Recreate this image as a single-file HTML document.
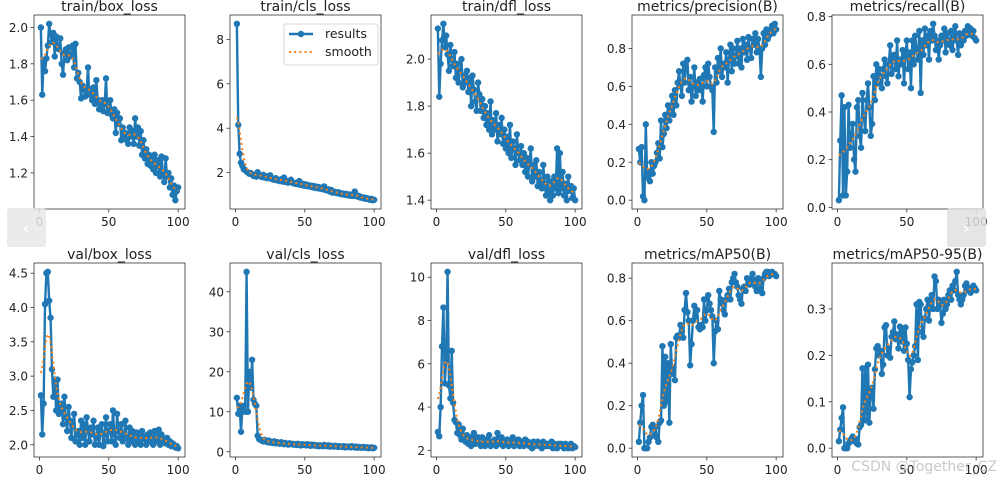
<!DOCTYPE html>
<html><head><meta charset="utf-8">
<style>
html,body{margin:0;padding:0;background:#fff;}
svg{display:block;font-family:"DejaVu Sans","Liberation Sans",sans-serif;}
</style></head>
<body>
<svg id="chart" width="1000" height="482" viewBox="0 0 1000 482"></svg>
<script>
const xValues = Array.from({length:100},(_, i)=>i+1);
const titles = ["train/box_loss","train/cls_loss","train/dfl_loss","metrics/precision(B)","metrics/recall(B)","val/box_loss","val/cls_loss","val/dfl_loss","metrics/mAP50(B)","metrics/mAP50-95(B)"];
const xTicks = [0,50,100];
const yTicks0 = [1.2,1.4,1.6,1.8,2.0];
const yTicks1 = [2,4,6,8];
const yTicks2 = [1.4,1.6,1.8,2.0];
const yTicks3 = [0.0,0.2,0.4,0.6,0.8];
const yTicks4 = [0.0,0.2,0.4,0.6,0.8];
const yTicks5 = [2.0,2.5,3.0,3.5,4.0,4.5];
const yTicks6 = [0,10,20,30,40];
const yTicks7 = [2,4,6,8,10];
const yTicks8 = [0.0,0.2,0.4,0.6,0.8];
const yTicks9 = [0.0,0.1,0.2,0.3];
const yTickLabels0 = ["1.2","1.4","1.6","1.8","2.0"];
const yTickLabels1 = ["2","4","6","8"];
const yTickLabels2 = ["1.4","1.6","1.8","2.0"];
const yTickLabels3 = ["0.0","0.2","0.4","0.6","0.8"];
const yTickLabels4 = ["0.0","0.2","0.4","0.6","0.8"];
const yTickLabels5 = ["2.0","2.5","3.0","3.5","4.0","4.5"];
const yTickLabels6 = ["0","10","20","30","40"];
const yTickLabels7 = ["2","4","6","8","10"];
const yTickLabels8 = ["0.0","0.2","0.4","0.6","0.8"];
const yTickLabels9 = ["0.0","0.1","0.2","0.3"];

const trainBoxLoss = [2.00,1.63,1.82,1.76,1.83,1.90,2.02,1.96,1.92,1.97,
1.84,1.95,1.90,1.88,1.94,1.80,1.74,1.86,1.88,1.82,
1.89,1.84,1.85,1.90,1.78,1.91,1.72,1.75,1.70,1.61,
1.68,1.66,1.62,1.65,1.78,1.63,1.66,1.60,1.67,1.58,
1.71,1.60,1.55,1.57,1.60,1.54,1.58,1.72,1.53,1.56,
1.60,1.52,1.50,1.55,1.42,1.53,1.47,1.50,1.38,1.45,
1.40,1.42,1.38,1.36,1.45,1.40,1.43,1.36,1.50,1.40,
1.45,1.35,1.43,1.30,1.38,1.28,1.33,1.25,1.30,1.24,
1.29,1.22,1.30,1.20,1.27,1.24,1.18,1.29,1.20,1.15,
1.28,1.18,1.20,1.12,1.17,1.08,1.13,1.05,1.10,1.12];
const trainClsLoss = [8.70,4.15,2.85,2.45,2.30,2.15,2.12,2.05,2.00,1.95,
1.98,1.92,1.85,1.90,1.82,2.02,1.88,1.85,1.80,1.90,
1.78,1.84,1.75,1.80,1.88,1.72,1.70,1.68,1.75,1.65,
1.68,1.62,1.70,1.60,1.78,1.58,1.62,1.55,1.60,1.68,
1.55,1.52,1.50,1.55,1.48,1.62,1.45,1.50,1.42,1.48,
1.40,1.45,1.38,1.42,1.35,1.40,1.32,1.38,1.30,1.35,
1.28,1.32,1.25,1.38,1.22,1.20,1.25,1.15,1.22,1.10,
1.15,1.10,1.08,1.12,1.05,1.08,1.02,1.05,1.00,1.04,
0.98,1.02,0.96,1.00,0.95,1.15,1.00,0.92,0.95,0.88,
0.90,0.85,0.88,0.82,0.85,0.80,0.78,0.82,0.76,0.78];
const trainDflLoss = [2.13,1.84,1.98,2.08,2.15,2.05,2.10,2.02,1.95,2.06,
2.00,1.97,2.03,1.92,1.98,1.90,1.95,2.00,1.88,1.93,
1.90,1.95,1.86,1.92,1.80,1.93,1.87,1.82,1.78,1.90,
1.85,1.78,1.83,1.75,1.80,1.72,1.77,1.70,1.82,1.68,
1.74,1.70,1.77,1.65,1.72,1.68,1.75,1.64,1.70,1.62,
1.67,1.60,1.72,1.58,1.65,1.62,1.55,1.68,1.60,1.57,
1.63,1.55,1.60,1.52,1.58,1.50,1.56,1.62,1.48,1.55,
1.50,1.57,1.46,1.52,1.48,1.45,1.55,1.47,1.42,1.50,
1.44,1.40,1.48,1.42,1.50,1.45,1.62,1.43,1.60,1.45,
1.52,1.42,1.47,1.40,1.50,1.44,1.46,1.41,1.45,1.40];
const precision = [0.27,0.20,0.28,0.02,0.00,0.40,0.12,0.15,0.10,0.20,
0.14,0.18,0.20,0.25,0.30,0.22,0.42,0.28,0.35,0.45,
0.38,0.50,0.42,0.48,0.55,0.45,0.58,0.50,0.62,0.68,
0.60,0.55,0.72,0.62,0.70,0.74,0.58,0.65,0.52,0.60,
0.70,0.55,0.62,0.58,0.64,0.60,0.52,0.66,0.70,0.60,
0.72,0.65,0.60,0.58,0.36,0.70,0.62,0.75,0.68,0.80,
0.65,0.72,0.70,0.78,0.62,0.74,0.82,0.68,0.80,0.72,
0.76,0.84,0.72,0.80,0.70,0.85,0.78,0.82,0.74,0.86,
0.80,0.75,0.85,0.82,0.88,0.78,0.85,0.80,0.65,0.80,
0.88,0.82,0.90,0.85,0.87,0.90,0.92,0.88,0.93,0.90];
const recall = [0.03,0.28,0.47,0.05,0.42,0.05,0.15,0.43,0.25,0.30,
0.35,0.20,0.15,0.42,0.45,0.30,0.25,0.48,0.38,0.32,
0.45,0.52,0.42,0.30,0.35,0.55,0.45,0.60,0.52,0.58,
0.55,0.50,0.58,0.62,0.55,0.52,0.60,0.68,0.56,0.62,
0.64,0.58,0.70,0.55,0.62,0.60,0.66,0.52,0.64,0.70,
0.58,0.65,0.50,0.70,0.60,0.72,0.66,0.62,0.74,0.48,
0.70,0.64,0.75,0.68,0.72,0.62,0.74,0.70,0.77,0.72,
0.66,0.70,0.62,0.68,0.72,0.70,0.75,0.65,0.73,0.70,
0.68,0.74,0.66,0.72,0.76,0.70,0.64,0.73,0.68,0.72,
0.70,0.74,0.72,0.76,0.73,0.75,0.72,0.74,0.71,0.70];
const valBoxLoss = [2.72,2.15,2.60,4.05,4.50,4.52,4.10,3.85,3.10,2.70,
2.95,2.50,2.95,2.45,2.50,2.60,2.30,2.70,2.40,2.20,
2.55,2.35,2.10,2.30,2.45,2.05,2.15,2.20,2.00,2.35,
2.10,2.30,2.00,2.40,2.20,2.05,2.25,2.15,2.35,2.00,
2.10,2.25,2.00,2.20,2.30,1.98,2.15,2.40,2.05,2.20,
2.30,2.05,2.50,2.15,2.00,2.45,2.20,2.10,2.30,2.05,
2.15,2.35,2.10,2.00,2.25,2.05,2.20,2.12,2.00,2.18,
2.05,2.15,2.00,2.20,2.08,2.12,2.00,2.15,2.05,2.18,
2.10,2.00,2.20,2.05,2.12,2.22,2.00,2.15,2.05,2.08,
2.02,2.10,2.00,2.05,1.98,2.02,2.00,1.96,1.98,1.95];
const valClsLoss = [13.5,9.5,11.5,5.0,11.0,11.5,10.0,45.0,10.0,20.0,
16.0,23.0,13.0,12.0,11.5,4.0,3.2,3.0,2.8,2.6,
3.00,2.60,2.40,2.80,2.30,2.50,2.20,2.60,2.10,2.40,
2.20,2.00,2.40,2.10,1.90,2.20,2.00,1.80,2.10,1.90,
2.00,1.80,1.90,1.70,2.00,1.80,1.60,1.90,1.70,1.80,
1.60,1.90,1.70,1.50,1.80,1.60,1.70,1.50,1.60,1.40,
1.60,1.50,1.40,1.70,1.50,1.40,1.60,1.30,1.50,1.40,
1.30,1.50,1.40,1.20,1.40,1.30,1.20,1.40,1.10,1.30,
1.20,1.30,1.10,1.40,1.20,1.10,1.30,1.00,1.20,1.10,
1.00,1.20,1.10,1.00,1.10,0.90,1.00,1.10,0.90,1.00];
const valDflLoss = [2.85,2.65,4.00,6.80,8.60,5.10,6.20,10.25,5.00,4.40,
6.60,4.20,3.40,3.30,2.80,3.20,2.70,2.50,3.00,2.60,
2.40,2.70,2.30,2.60,2.20,2.50,2.80,2.30,2.40,2.60,
2.30,2.20,2.60,2.40,2.20,2.50,2.30,2.70,2.20,2.40,
2.30,2.50,2.20,2.80,2.40,2.30,2.60,2.20,2.40,2.30,
2.50,2.20,2.40,2.30,2.60,2.20,2.40,2.30,2.50,2.20,
2.40,2.30,2.20,2.50,2.30,2.40,2.20,2.30,2.10,2.40,
2.20,2.30,2.40,2.20,2.30,2.10,2.40,2.20,2.30,2.20,
2.30,2.20,2.40,2.10,2.30,2.20,2.10,2.30,2.20,2.30,
2.20,2.10,2.30,2.20,2.10,2.20,2.30,2.10,2.20,2.15];
const mAP50 = [0.03,0.12,0.20,0.25,0.00,0.00,0.00,0.03,0.05,0.10,
0.11,0.06,0.10,0.05,0.03,0.12,0.13,0.48,0.20,0.43,
0.22,0.40,0.12,0.49,0.35,0.38,0.32,0.52,0.53,0.52,
0.58,0.55,0.52,0.65,0.73,0.64,0.60,0.39,0.49,0.60,
0.67,0.62,0.65,0.57,0.56,0.58,0.57,0.70,0.60,0.65,
0.72,0.68,0.65,0.62,0.40,0.55,0.60,0.56,0.74,0.70,
0.68,0.65,0.63,0.70,0.72,0.75,0.70,0.78,0.80,0.82,
0.78,0.76,0.72,0.70,0.68,0.75,0.76,0.74,0.80,0.78,
0.77,0.80,0.82,0.79,0.76,0.74,0.80,0.78,0.75,0.73,
0.80,0.82,0.83,0.83,0.81,0.82,0.83,0.82,0.82,0.81];
const mAP5095 = [0.015,0.040,0.065,0.088,0.000,0.000,0.000,0.010,0.015,0.020,
0.025,0.015,0.020,0.010,0.008,0.045,0.050,0.172,0.060,0.172,
0.060,0.180,0.055,0.120,0.130,0.085,0.170,0.215,0.220,0.200,
0.210,0.160,0.180,0.260,0.265,0.200,0.215,0.195,0.240,0.250,
0.273,0.235,0.245,0.215,0.262,0.230,0.255,0.210,0.260,0.225,
0.190,0.110,0.170,0.185,0.200,0.220,0.310,0.190,0.315,0.310,
0.250,0.240,0.280,0.300,0.320,0.275,0.310,0.330,0.300,0.370,
0.360,0.300,0.320,0.310,0.270,0.290,0.320,0.300,0.310,0.330,
0.340,0.320,0.350,0.340,0.360,0.380,0.330,0.320,0.310,0.320,
0.330,0.350,0.355,0.340,0.345,0.335,0.340,0.350,0.345,0.340];

const series = [trainBoxLoss,trainClsLoss,trainDflLoss,precision,recall,valBoxLoss,valClsLoss,valDflLoss,mAP50,mAP5095];
const yTicksAll = [yTicks0,yTicks1,yTicks2,yTicks3,yTicks4,yTicks5,yTicks6,yTicks7,yTicks8,yTicks9];
const yLabelsAll = [yTickLabels0,yTickLabels1,yTickLabels2,yTickLabels3,yTickLabels4,yTickLabels5,yTickLabels6,yTickLabels7,yTickLabels8,yTickLabels9];

const NS = "http://www.w3.org/2000/svg";
const svg = document.getElementById("chart");
function mk(tag, attrs, parent){
  const e = document.createElementNS(NS, tag);
  for (const k in attrs) e.setAttribute(k, attrs[k]);
  (parent||svg).appendChild(e);
  return e;
}
function smooth(y, sigma){
  const n=y.length, out=[], r=Math.ceil(sigma*4);
  for(let i=0;i<n;i++){
    let s=0,w=0;
    for(let k=-r;k<=r;k++){
      let j=i+k; if(j<0) j=-j-1; if(j>=n) j=2*n-j-1;
      j=Math.max(0,Math.min(n-1,j));
      const g=Math.exp(-k*k/(2*sigma*sigma)); s+=g*y[j]; w+=g;
    }
    out.push(s/w);
  }
  return out;
}
const lefts=[34,230,431,632,832], tops=[15,263], W=151, H=194;
const slug = t => t.toLowerCase().replace(/[^a-z0-9]+/g,'-').replace(/^-|-$/g,'');

series.forEach((ys, idx)=>{
  const col=idx%5, row=Math.floor(idx/5);
  const L=lefts[col], T=tops[row];
  const g = mk("g",{});
  
  
  const xmin=1, xmax=100, xm=(xmax-xmin)*0.05;
  const ymin=Math.min(...ys), ymax=Math.max(...ys), ym=(ymax-ymin)*0.05;
  const xs = v => L + (v-(xmin-xm))/((xmax+xm)-(xmin-xm))*W;
  const ysc = v => T + H - (v-(ymin-ym))/((ymax+ym)-(ymin-ym))*H;
  const tt = mk("text",{x:L+W/2,y:T-4,"text-anchor":"middle","font-size":"14",fill:"#222"},g);
  tt.textContent = titles[idx];
  
  
  xTicks.forEach(t=>{
    const x=xs(t);
    mk("line",{x1:x,x2:x,y1:T+H,y2:T+H+3.5,stroke:"#333","stroke-width":0.8},g);
    const tx=mk("text",{x:x,y:T+H+17,"text-anchor":"middle","font-size":"12",fill:"#222"},g);
    tx.textContent=t;
    
    
  });
  yTicksAll[idx].forEach((t,k)=>{
    const y=ysc(t);
    mk("line",{x1:L-3.5,x2:L,y1:y,y2:y,stroke:"#333","stroke-width":0.8},g);
    const ty=mk("text",{x:L-6,y:y+4.5,"text-anchor":"end","font-size":"12",fill:"#222"},g);
    ty.textContent=yLabelsAll[idx][k];
    
    
  });
  const pts = ys.map((v,i)=>xs(xValues[i]).toFixed(2)+","+ysc(v).toFixed(2)).join(" ");
  const pl = mk("polyline",{points:pts,fill:"none",stroke:"#1f77b4","stroke-width":2.4,"stroke-linejoin":"round"},g);
  
  
  ys.forEach((v,i)=>{
    const c = mk("circle",{cx:xs(xValues[i]),cy:ysc(v),r:3.2,fill:"#1f77b4"},g);
    
    
  });
  const sm = smooth(ys, 3);
  const spts = sm.map((v,i)=>xs(xValues[i]).toFixed(2)+","+ysc(v).toFixed(2)).join(" ");
  const sl = mk("polyline",{points:spts,fill:"none",stroke:"#ff7f0e","stroke-width":2,"stroke-dasharray":"2,3.2"},g);
  
  
  mk("rect",{x:L,y:T,width:W,height:H,fill:"none",stroke:"#333","stroke-width":0.8},g);
});

const lg = mk("g",{});


mk("rect",{x:284,y:24,width:94,height:41,rx:2,fill:"#fff",stroke:"#ccc","stroke-width":0.8},lg);
mk("line",{x1:289,x2:313,y1:34,y2:34,stroke:"#1f77b4","stroke-width":2.4},lg);
mk("circle",{cx:301,cy:34,r:3.2,fill:"#1f77b4"},lg);
const l1=mk("text",{x:325,y:38,"font-size":"12.5",fill:"#222"},lg); l1.textContent="results";


mk("line",{x1:289,x2:313,y1:52,y2:52,stroke:"#ff7f0e","stroke-width":2,"stroke-dasharray":"2,3.2"},lg);
const l2=mk("text",{x:325,y:56,"font-size":"12.5",fill:"#222"},lg); l2.textContent="smooth";



const pb = mk("g",{});


mk("rect",{x:7,y:208,width:39,height:39,rx:3,fill:"#e8e8e8","fill-opacity":0.85},pb);
const pt=mk("text",{x:26,y:234,"text-anchor":"middle","font-size":"18",fill:"#fff"},pb); pt.textContent="‹";
const nb = mk("g",{});


mk("rect",{x:947,y:208,width:39,height:39,rx:3,fill:"#e0e0e0","fill-opacity":0.85},nb);
const nt=mk("text",{x:966,y:234,"text-anchor":"middle","font-size":"18",fill:"#fff"},nb); nt.textContent="›";
const wm = mk("text",{x:997,y:471,"text-anchor":"end","font-size":"14",fill:"#bbb","fill-opacity":0.8});
wm.textContent="CSDN @Together_CZ";


</script>
</body></html>
